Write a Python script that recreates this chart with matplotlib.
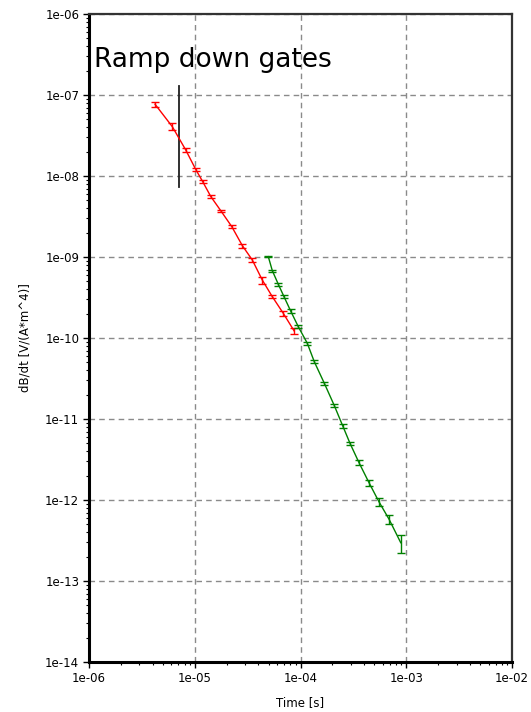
import matplotlib
matplotlib.use("Agg")
import matplotlib.pyplot as plt
from matplotlib.ticker import LogLocator, FuncFormatter, NullFormatter
import numpy as np

# Red series (early gates)
red_t = [4.21e-6, 6.14e-6, 8.21e-6, 1.02e-5, 1.19e-5, 1.42e-5, 1.77e-5,
         2.24e-5, 2.82e-5, 3.50e-5, 4.35e-5, 5.41e-5, 6.87e-5, 8.68e-5]
red_v = [7.7e-8, 4.06e-8, 2.1e-8, 1.21e-8, 8.5e-9, 5.56e-9, 3.70e-9,
         2.37e-9, 1.38e-9, 9.2e-10, 5.2e-10, 3.24e-10, 2.02e-10, 1.23e-10]
red_err = [0.07, 0.10, 0.06, 0.04, 0.04, 0.04, 0.04,
           0.05, 0.06, 0.05, 0.10, 0.05, 0.07, 0.09]

# Green series (late gates)
green_t = [4.96e-5, 5.41e-5, 6.17e-5, 6.98e-5, 8.08e-5, 9.53e-5, 1.16e-4,
           1.35e-4, 1.68e-4, 2.09e-4, 2.51e-4, 2.94e-4, 3.57e-4, 4.44e-4,
           5.52e-4, 6.87e-4, 8.87e-4]
green_v = [1.01e-9, 6.8e-10, 4.6e-10, 3.24e-10, 2.15e-10, 1.38e-10, 8.6e-11,
           5.1e-11, 2.76e-11, 1.46e-11, 8.2e-12, 5.0e-12, 2.9e-12, 1.64e-12,
           9.5e-13, 5.8e-13, 2.97e-13]
green_err = [0.02, 0.03, 0.04, 0.04, 0.05, 0.04, 0.04,
             0.04, 0.04, 0.05, 0.05, 0.05, 0.06, 0.08,
             0.12, 0.12, 0.25]

# Ramp-down gate marker
gate_t = 7.15e-6
gate_range = [7.4e-9, 1.3e-7]
annotation = "Ramp down gates"
annot_pos = (1.12e-6, 2.7e-7)

xlim = (1e-6, 1e-2)
ylim = (1e-14, 1e-6)

fig = plt.figure(figsize=(5.31, 7.12), dpi=100)
ax = fig.add_axes([89/531, 1-662/712, (512-89)/531, (662-14)/712])
ax.set_xscale("log")
ax.set_yscale("log")
ax.set_xlim(*xlim)
ax.set_ylim(*ylim)

ax.grid(True, which="major", color="#8a8a8a", linestyle=(0, (4, 3)), linewidth=1.0)
ax.set_axisbelow(True)

ax.errorbar(red_t, red_v, yerr=np.array(red_v) * np.array(red_err),
            color="#ff0000", lw=1.0, elinewidth=1.0, capsize=3, capthick=1.0)
ax.errorbar(green_t, green_v, yerr=np.array(green_v) * np.array(green_err),
            color="#008000", lw=1.0, elinewidth=1.0, capsize=3, capthick=1.0)

ax.plot([gate_t, gate_t], gate_range, color="#202020", lw=1.3)
ax.text(annot_pos[0], annot_pos[1], annotation, fontsize=19, family="DejaVu Sans",
        va="center", ha="left", color="black")

fmt = FuncFormatter(lambda v, p: f"{v:.0e}")
ax.xaxis.set_major_locator(LogLocator(base=10, numticks=20))
ax.yaxis.set_major_locator(LogLocator(base=10, numticks=20))
ax.xaxis.set_major_formatter(fmt)
ax.yaxis.set_major_formatter(fmt)
ax.xaxis.set_minor_locator(LogLocator(base=10, subs=np.arange(2, 10), numticks=20))
ax.yaxis.set_minor_locator(LogLocator(base=10, subs=np.arange(2, 10), numticks=20))
ax.xaxis.set_minor_formatter(NullFormatter())
ax.yaxis.set_minor_formatter(NullFormatter())
ax.tick_params(which="major", direction="out", length=4, width=1, labelsize=8.5, pad=3)
ax.tick_params(which="minor", direction="out", length=2, width=0.8)

for s in ["left", "bottom"]:
    ax.spines[s].set_linewidth(2.2)
for s in ["top", "right"]:
    ax.spines[s].set_linewidth(1.6)
    ax.spines[s].set_color("#333333")

ax.set_xlabel("Time [s]", fontsize=8.5, labelpad=8)
ax.set_ylabel("dB/dt [V/(A*m^4)]", fontsize=8.5, labelpad=10)

fig.savefig("out.png", dpi=100)
